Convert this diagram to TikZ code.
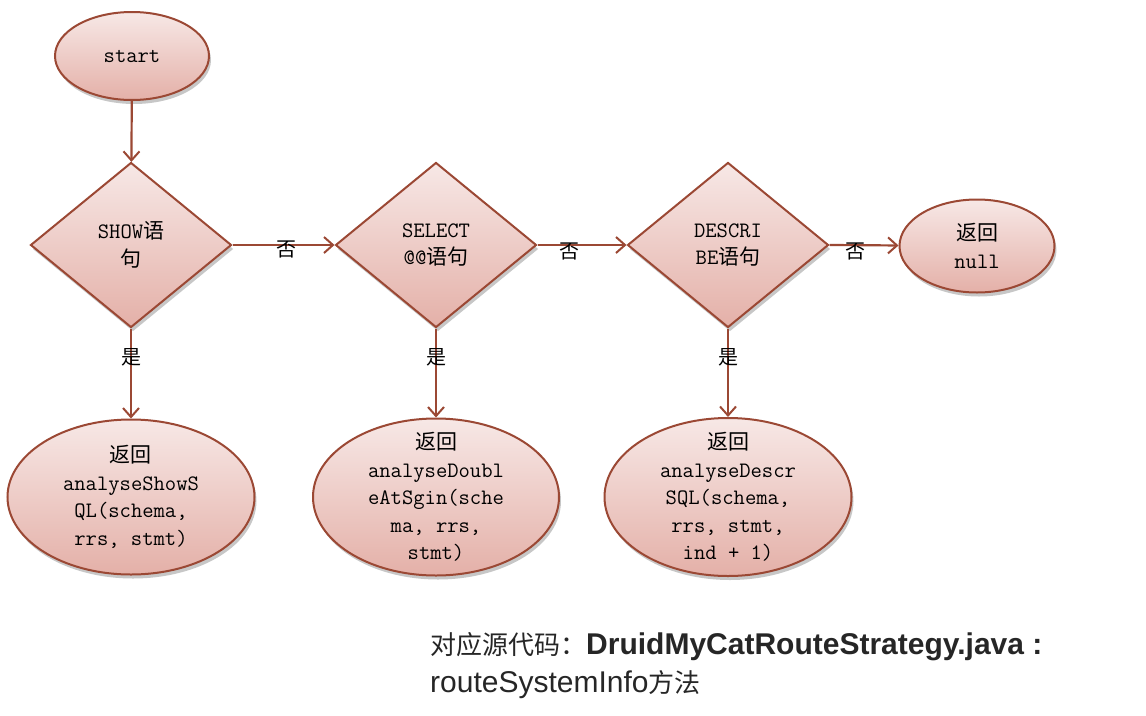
\documentclass[tikz,border=0pt]{standalone}
\usepackage{fontspec}
\setmainfont{Liberation Sans}
\newfontfamily\cjk{Noto Sans CJK SC}
\usetikzlibrary{shapes.geometric,shadows,arrows.meta}
\definecolor{edgec}{RGB}{155,72,52}
\definecolor{topc}{RGB}{247,232,230}
\definecolor{botc}{RGB}{228,176,168}
\newcommand{\zh}[1]{{\cjk\fontsize{21}{27.5}\selectfont #1}}
\tikzset{
  shp/.style={draw=edgec, line width=2pt, top color=topc, bottom color=botc,
    inner sep=-12pt, align=center, text=black,
    font=\ttfamily\fontsize{22}{27.5}\selectfont,
    drop shadow={shadow xshift=2pt,shadow yshift=-4pt,opacity=0.22,fill=black}},
  term/.style={shp, ellipse},
  dec/.style={shp, diamond, inner sep=0pt},
  conn/.style={draw=edgec, line width=2.2pt, -{Straight Barb[length=9pt,width=16pt,line width=2pt]}},
  lab/.style={inner sep=0pt, text=black, font=\cjk\fontsize{20}{20}\selectfont}
}
\begin{document}
\begin{tikzpicture}[x=1pt,y=-1pt]
\useasboundingbox (0,0) rectangle (1146,715);
\node[term, minimum width=154pt, minimum height=88pt] (start) at (132,56) {start};
\node[dec, minimum width=201pt, minimum height=165pt] (d1) at (131,245) {SHOW\zh{语}\\\zh{句}};
\node[dec, minimum width=201pt, minimum height=165pt] (d2) at (436,245) {SELECT\\@@\zh{语句}};
\node[dec, minimum width=201pt, minimum height=165pt] (d3) at (728,245) {DESCRI\\BE\zh{语句}};
\node[term, minimum width=155pt, minimum height=93pt] (rnull) at (977,246) {\zh{返回}\\null};
\node[term, minimum width=247pt, minimum height=155pt] (r1) at (131,497) {\zh{返回}\\analyseShowS\\QL(schema,\\rrs, stmt)};
\node[term, minimum width=246pt, minimum height=157pt] (r2) at (436,497) {\zh{返回}\\analyseDoubl\\eAtSgin(sche\\ma, rrs,\\stmt)};
\node[term, minimum width=247pt, minimum height=158pt] (r3) at (728,497) {\zh{返回}\\analyseDescr\\SQL(schema,\\rrs, stmt,\\ind + 1)};

\draw[conn] (start) -- (d1);
\draw[conn] (d1.east) -- node[lab, pos=0.53, yshift=-4pt] (n1) {否} (d2.west);
\draw[conn] (d2.east) -- node[lab, pos=0.36, yshift=-6pt] (n2) {否} (d3.west);
\draw[conn] (d3.east) -- node[lab, pos=0.38, yshift=-6pt] (n3) {否} (rnull);
\draw[conn] (d1.south) -- node[lab, pos=0.32] (y1) {是} (r1);
\draw[conn] (d2.south) -- node[lab, pos=0.32] (y2) {是} (r2);
\draw[conn] (d3.south) -- node[lab, pos=0.32] (y3) {是} (r3);

\node[anchor=north west, align=left, inner sep=0pt, text=black!85,
  font=\fontsize{30}{38}\selectfont] (src) at (430,632)
  {{\cjk\fontsize{26}{38}\selectfont 对应源代码：}\textbf{DruidMyCatRouteStrategy.java :}\\
   routeSystemInfo{\cjk\fontsize{26}{38}\selectfont 方法}};
\end{tikzpicture}
\end{document}
